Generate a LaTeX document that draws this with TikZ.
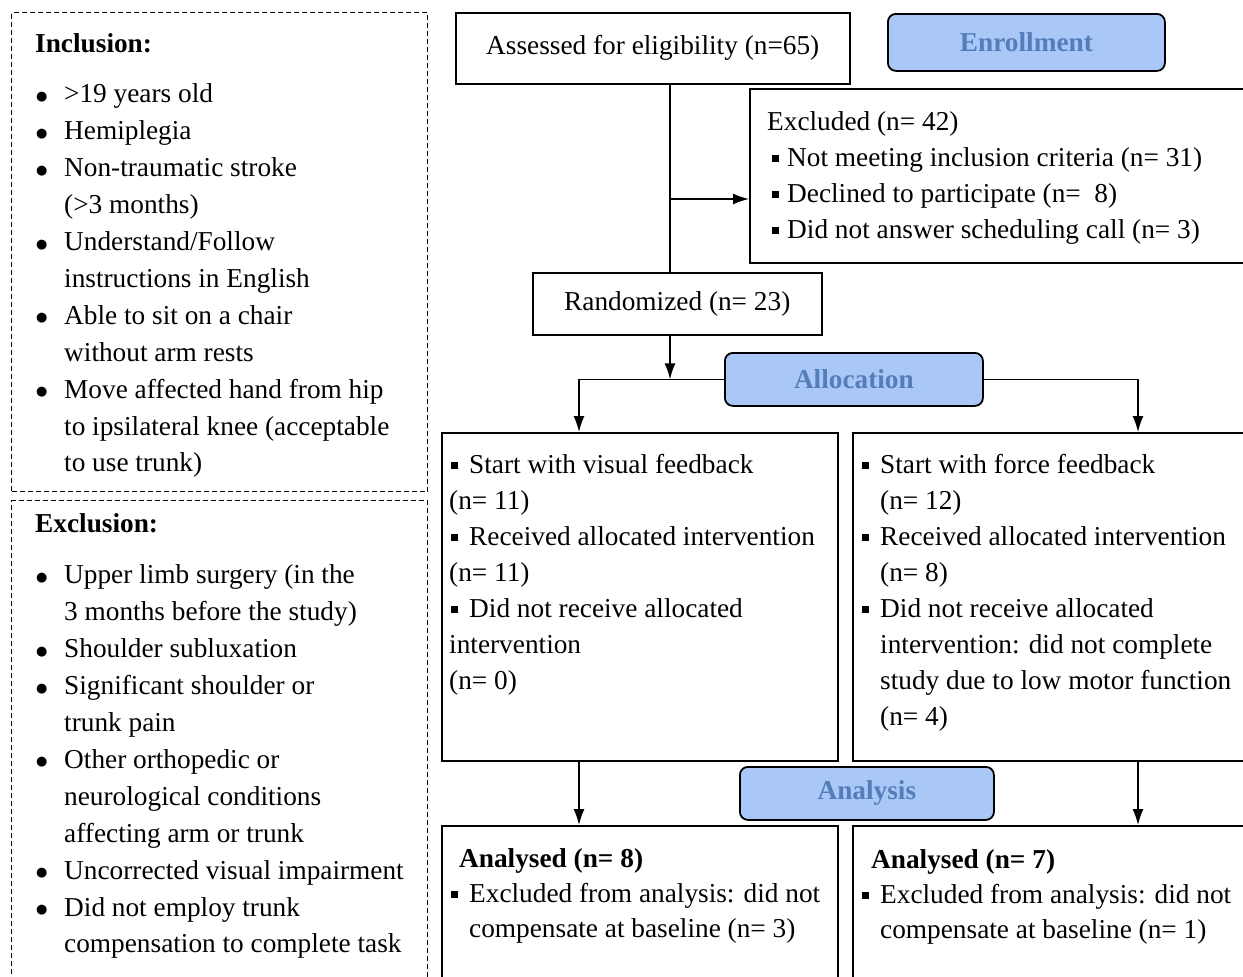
\documentclass[tikz,border=0pt]{standalone}
\usepackage{fontspec}
\setmainfont{Liberation Serif}
\newfontfamily\symfont{DejaVu Sans}
\usetikzlibrary{arrows.meta, positioning}

\definecolor{stagefill}{RGB}{169,199,247}
\definecolor{stagetext}{RGB}{84,126,186}

\newcommand{\basefont}{\fontsize{27.3}{36}\selectfont}
\newcommand{\critfont}{\fontsize{27.3}{36.9}\selectfont}
\newcommand{\dotb}{\makebox[29pt][l]{\hspace*{1pt}\raisebox{2.5pt}{\fontsize{13}{0}\symfont ●}}}
\newcommand{\hang}{\hspace*{29pt}}
\newcommand{\sqb}{\rule[4pt]{7pt}{7pt}}
\newcommand{\sqi}[1][2pt]{\makebox[20pt][l]{\hspace*{#1}\sqb}}
\newcommand{\hangs}{\hspace*{20pt}}

\begin{document}
\begin{tikzpicture}[x=1pt, y=-1pt,
  box/.style={draw, line width=1.5pt, anchor=north west, inner sep=0pt, font=\basefont},
  critbox/.style={draw, line width=1.3pt, dash pattern=on 5pt off 3pt, anchor=north west, inner sep=0pt},
  stage/.style={draw, line width=1.8pt, rounded corners=8pt, fill=stagefill, text=stagetext,
    font=\basefont\bfseries, anchor=north west, inner sep=0pt},
  txt/.style={anchor=north west, inner sep=0pt, align=left, font=\basefont},
  arr/.style={line width=1.5pt, -{Latex[length=16pt,width=11pt]}},
  link/.style={line width=1.5pt}]

  \useasboundingbox (0,0) rectangle (1243,977);
  \clip (0,0) rectangle (1243,977);

  % criteria boxes
  \node[critbox, minimum width=416pt, minimum height=479pt] (incl) at (11,12) {};
  \node[critbox, minimum width=416pt, minimum height=500pt] (excrit) at (11,500) {};

  \node[txt, font=\critfont] (incltxt) at (35,26) {\strut\textbf{Inclusion:}\\[14pt]
    \dotb >19 years old\\
    \dotb Hemiplegia\\
    \dotb Non-traumatic stroke\\
    \hang (>3 months)\\
    \dotb Understand/Follow\\
    \hang instructions in English\\
    \dotb Able to sit on a chair\\
    \hang without arm rests\\
    \dotb Move affected hand from hip\\
    \hang to ipsilateral knee (acceptable\\
    \hang to use trunk)};

  \node[txt, font=\critfont] (excltxt) at (35,506) {\strut\textbf{Exclusion:}\\[15pt]
    \dotb Upper limb surgery (in the\\
    \hang 3 months before the study)\\
    \dotb Shoulder subluxation\\
    \dotb Significant shoulder or\\
    \hang trunk pain\\
    \dotb Other orthopedic or\\
    \hang neurological conditions\\
    \hang affecting arm or trunk\\
    \dotb Uncorrected visual impairment\\
    \dotb Did not employ trunk\\
    \hang compensation to complete task};

  % enrollment
  \node[box, minimum width=394pt, minimum height=71pt] (assess) at (455,12) {Assessed for eligibility (n=65)};
  \node[stage, minimum width=277pt, minimum height=57pt] (enrol) at (887,13) {Enrollment};
  \node[box, minimum width=520pt, minimum height=174pt] (excl) at (749,88) {};
  \node[txt] (excltext) at (767,104.8) {\strut Excluded (n= 42)\\
    \sqi[5pt]Not meeting inclusion criteria (n= 31)\\
    \sqi[5pt]Declined to participate (n=\ \ 8)\\
    \sqi[5pt]Did not answer scheduling call (n= 3)};
  \node[box, minimum width=289pt, minimum height=62pt] (random) at (532,272) {Randomized (n= 23)};

  % allocation
  \node[stage, minimum width=258pt, minimum height=53pt] (alloc) at (724,352) {Allocation};
  \node[box, minimum width=396pt, minimum height=328pt] (visual) at (441,432) {};
  \node[box, minimum width=420pt, minimum height=328pt] (force) at (852,432) {};
  \node[txt] (visualtxt) at (449,447.8) {\strut\sqi Start with visual feedback\\
    (n= 11)\\
    \sqi Received allocated intervention\\
    (n= 11)\\
    \sqi Did not receive allocated\\
    intervention\\
    (n= 0)};
  \node[txt] (forcetxt) at (860,447.8) {\strut\sqi Start with force feedback\\
    \hangs (n= 12)\\
    \sqi Received allocated intervention\\
    \hangs (n= 8)\\
    \sqi Did not receive allocated\\
    \hangs intervention: did not complete\\
    \hangs study due to low motor function\\
    \hangs (n= 4)};

  % analysis
  \node[stage, minimum width=254pt, minimum height=53pt] (analysis) at (739,766) {Analysis};
  \node[box, minimum width=396pt, minimum height=200pt] (anaL) at (441,825) {};
  \node[box, minimum width=420pt, minimum height=200pt] (anaR) at (852,825) {};
  \node[txt, font=\fontsize{27.3}{35}\selectfont] (anaLtxt) at (449,842.5) {\strut\hspace*{10pt}\textbf{Analysed (n= 8)}\\
    \sqi Excluded from analysis: did not\\
    \hangs compensate at baseline (n= 3)};
  \node[txt, font=\fontsize{27.3}{35}\selectfont] (anaRtxt) at (860,843.5) {\strut\hspace*{11pt}\textbf{Analysed (n= 7)}\\
    \sqi Excluded from analysis: did not\\
    \hangs compensate at baseline (n= 1)};

  % connectors
  \coordinate (vx) at (670,0);
  \coordinate (exy) at (0,199);
  \coordinate (lx) at (579,0);
  \coordinate (rx) at (1138,0);
  \draw[link] (assess.south -| vx) -- (random.north -| vx);
  \draw[arr] (vx |- exy) -- (excl.west |- exy);
  \draw[arr] (random.south -| vx) -- (alloc.west -| vx);
  \draw[link] (alloc.west -| vx) -- (alloc.west);
  \draw[arr] (alloc.west) -| (visual.north -| lx);
  \draw[arr] (alloc.east) -| (force.north -| rx);
  \draw[arr] (visual.south -| lx) -- (anaL.north -| lx);
  \draw[arr] (force.south -| rx) -- (anaR.north -| rx);

\end{tikzpicture}
\end{document}
